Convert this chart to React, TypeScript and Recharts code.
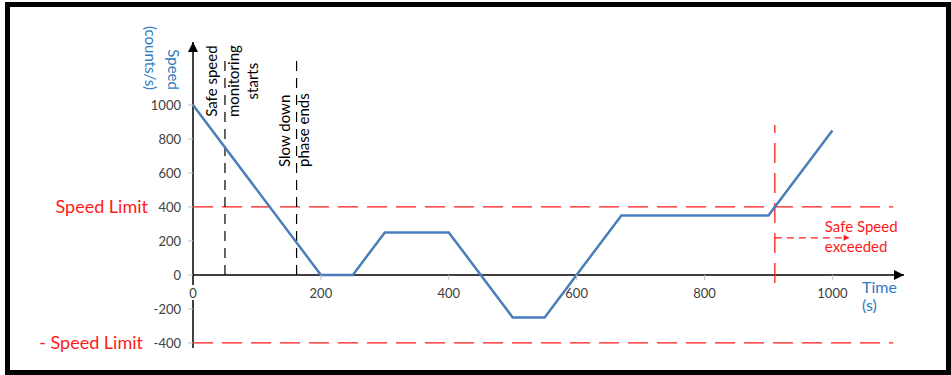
import { LineChart, Line, XAxis, YAxis, ReferenceLine, ReferenceDot } from 'recharts'

const FONT = 'Lato, "Noto Sans", sans-serif'
const RED = '#ff1a1a'
const BLUE = '#2f7bc2'

// speed profile (time in s, speed in counts/s)
const times = [0, 200, 250, 300, 400, 500, 550, 670, 900, 1000]
const speeds = [1000, 0, 0, 250, 250, -250, -250, 350, 350, 850]

const xTicks = [0, 200, 400, 600, 800, 1000]
const yTicks = [-400, -200, 0, 200, 400, 600, 800, 1000]

const xMax = 1112
const yMin = -430
const yMax = 1370
const speedLimit = 400
const limitEnd = 1095
const monitorStart = 50
const slowDownEnd = 162
const markerTop = 1270
const exceededAt = 910
const exceededTop = 882
const exceededBottom = -47
const arrowLevel = 218
const arrowEnd = 1027

const data = times.map((t, i) => ({ t, speed: speeds[i] }))

function Note(p: any) {
  const { cx = 0, cy = 0, lines, offsets, angle = 0, anchor = 'start', color = '#000', size = 14 } = p
  return (
    <g>
      {lines.map((s: string, i: number) => {
        const x = cx + offsets[i][0]
        const y = cy + offsets[i][1]
        return (
          <text key={i} x={x} y={y} textAnchor={anchor} fill={color} fontSize={size} fontFamily={FONT}
            transform={angle ? `rotate(${angle} ${x} ${y})` : undefined}>
            {s}
          </text>
        )
      })}
    </g>
  )
}

function Arrow(p: any) {
  const { cx = 0, cy = 0, dir, color = '#000', s = 5 } = p
  const pts = dir === 'up'
    ? `${cx},${cy} ${cx - s},${cy + 2 * s} ${cx + s},${cy + 2 * s}`
    : `${cx},${cy} ${cx - 2 * s},${cy - s} ${cx - 2 * s},${cy + s}`
  return <polygon points={pts} fill={color} />
}

function XTick(p: any) {
  const { cx = 0, cy = 0, label } = p
  return (
    <g>
      {label !== '0' && <line x1={cx} y1={cy} x2={cx} y2={cy + 5} stroke="#bfbfbf" />}
      <text x={cx} y={cy + 23} textAnchor="middle" fill="#404040" fontSize={13} fontFamily={FONT}>{label}</text>
    </g>
  )
}

export default function App() {
  return (
    <div style={{ position: 'absolute', left: 0, top: 0, width: 951, height: 375, background: '#fff' }}>
      <LineChart width={951} height={375} data={data} margin={{ top: 42, right: 47, bottom: 27, left: 133 }}>
        <XAxis dataKey="t" type="number" domain={[0, xMax]} hide />
        <YAxis type="number" domain={[yMin, yMax]} ticks={yTicks} axisLine={false} width={60}
          tickSize={5} tickMargin={7} tickLine={{ stroke: '#bfbfbf' }}
          tick={{ fontSize: 13, fill: '#404040', fontFamily: FONT }} />

        {/* axes drawn by hand so they cross at the origin */}
        <ReferenceLine segment={[{ x: 0, y: 0 }, { x: xMax, y: 0 }]} stroke="#000" strokeWidth={1.5} />
        <ReferenceLine segment={[{ x: 0, y: -59 }, { x: 0, y: yMax }]} stroke="#000" strokeWidth={1.5} />
        <ReferenceLine segment={[{ x: 0, y: -147 }, { x: 0, y: yMin }]} stroke="#000" strokeWidth={1.5} />
        <ReferenceDot x={xMax} y={0} r={0} shape={(p: any) => <Arrow {...p} dir="right" />} />
        <ReferenceDot x={0} y={yMax} r={0} shape={(p: any) => <Arrow {...p} dir="up" />} />
        {xTicks.map(t => (
          <ReferenceDot key={t} x={t} y={0} r={0} shape={(p: any) => <XTick {...p} label={String(t)} />} />
        ))}

        {/* limits */}
        <ReferenceLine segment={[{ x: 0, y: speedLimit }, { x: limitEnd, y: speedLimit }]} stroke={RED}
          strokeWidth={1.3} strokeDasharray="20 9"
          label={{ value: 'Speed Limit', position: 'left', offset: 45, fill: RED, fontSize: 18, fontFamily: FONT }} />
        <ReferenceLine segment={[{ x: 0, y: -speedLimit }, { x: limitEnd, y: -speedLimit }]} stroke={RED}
          strokeWidth={1.3} strokeDasharray="20 9"
          label={{ value: '- Speed Limit', position: 'left', offset: 50, fill: RED, fontSize: 18, fontFamily: FONT }} />

        {/* phase markers */}
        <ReferenceLine segment={[{ x: monitorStart, y: 0 }, { x: monitorStart, y: markerTop }]} stroke="#000"
          strokeWidth={1.2} strokeDasharray="10 7" />
        <ReferenceLine segment={[{ x: slowDownEnd, y: 0 }, { x: slowDownEnd, y: markerTop }]} stroke="#000"
          strokeWidth={1.2} strokeDasharray="10 7" />
        <ReferenceLine segment={[{ x: exceededAt, y: exceededBottom }, { x: exceededAt, y: exceededTop }]} stroke={RED}
          strokeWidth={1.3} strokeDasharray="20 10" />
        <ReferenceLine segment={[{ x: exceededAt, y: arrowLevel }, { x: arrowEnd - 8, y: arrowLevel }]} stroke={RED}
          strokeWidth={1.2} strokeDasharray="7 5" />
        <ReferenceDot x={arrowEnd} y={arrowLevel} r={0} shape={(p: any) => <Arrow {...p} dir="right" color={RED} s={3} />} />

        <Line type="linear" dataKey="speed" stroke="#4a7ebb" strokeWidth={2.5} dot={false} isAnimationActive={false} />

        {/* text annotations */}
        <ReferenceDot x={monitorStart} y={1140} r={0} shape={(p: any) => (
          <Note {...p} lines={['Safe speed', 'monitoring', 'starts']} offsets={[[-8, 0], [14, 0], [33, 0]]}
            angle={-90} anchor="middle" size={15} />
        )} />
        <ReferenceDot x={slowDownEnd} y={635} r={0} shape={(p: any) => (
          <Note {...p} lines={['Slow down', 'phase ends']} offsets={[[-7, 0], [12, 0]]}
            angle={-90} anchor="start" size={15} />
        )} />
        <ReferenceDot x={0} y={1088} r={0} shape={(p: any) => (
          <Note {...p} lines={['Speed', '(counts/s)']} offsets={[[-25, 0], [-48, 0]]}
            angle={90} anchor="end" color={BLUE} size={15} />
        )} />
        <ReferenceDot x={xMax} y={0} r={0} shape={(p: any) => (
          <Note {...p} lines={['Time', '(s)']} offsets={[[-42, 18], [-42, 36]]} color={BLUE} size={16} />
        )} />
        <ReferenceDot x={exceededAt} y={arrowLevel} r={0} shape={(p: any) => (
          <Note {...p} lines={['Safe Speed', 'exceeded']} offsets={[[50, -6], [50, 14]]} color={RED} size={15} />
        )} />
      </LineChart>
      <div style={{ position: 'absolute', left: 5, top: 2, width: 946, height: 373, border: '5px solid #000', boxSizing: 'border-box', pointerEvents: 'none' }} />
    </div>
  )
}
